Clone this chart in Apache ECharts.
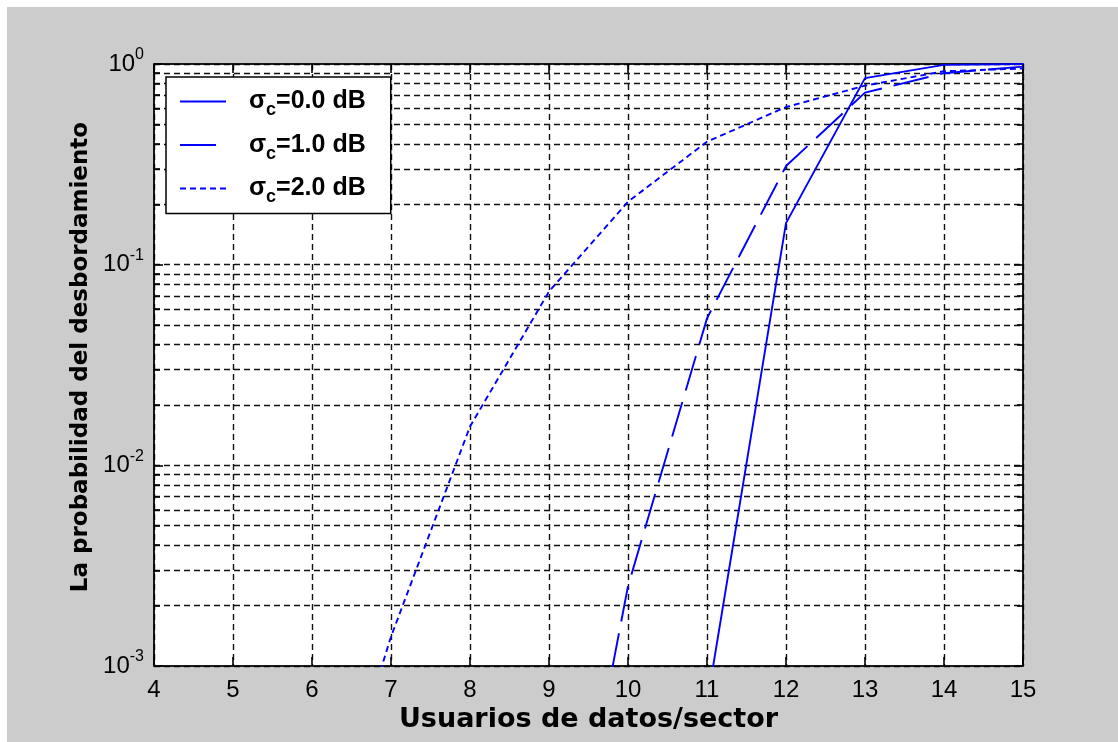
<!DOCTYPE html>
<html>
<head>
<meta charset="utf-8">
<script src="https://cdn.jsdelivr.net/npm/echarts@6/dist/echarts.min.js"></script>
<style>
  html, body { margin: 0; padding: 0; background: #ffffff; }
  #chart { position: absolute; left: 7px; top: 7px; width: 1111px; height: 735px; background: #cccccc; }
</style>
</head>
<body>
<div id="chart"></div>
<script>
// Users per sector (x) and overflow probability (y, log scale)
const xTicks = [4, 5, 6, 7, 8, 9, 10, 11, 12, 13, 14, 15];
const decadeTicks = [0.001, 0.01, 0.1, 1];
const minorTicks = [
  0.002, 0.003, 0.004, 0.005, 0.006, 0.007, 0.008, 0.009,
  0.02, 0.03, 0.04, 0.05, 0.06, 0.07, 0.08, 0.09,
  0.2, 0.3, 0.4, 0.5, 0.6, 0.7, 0.8, 0.9
];

const seriesNames = ['σc=0.0 dB', 'σc=1.0 dB', 'σc=2.0 dB'];

// sigma_c = 0.0 dB
const users0 = [11, 12, 13, 14, 15];
const prob0 = [0.00065, 0.161, 0.85, 0.99, 1.0];
// sigma_c = 1.0 dB
const users1 = [9, 10, 11, 12, 13, 14, 15];
const prob1 = [0.000022, 0.0025, 0.054, 0.31, 0.72, 0.90, 0.97];
// sigma_c = 2.0 dB
const users2 = [6, 7, 8, 9, 10, 11, 12, 13, 14, 15];
const prob2 = [0.000076, 0.0014, 0.0156, 0.0735, 0.206, 0.41, 0.61, 0.78, 0.92, 0.95];

const pairs = (xs, ys) => xs.map((x, i) => [x, ys[i]]);

const LABEL_FONT = "'Liberation Sans', Arial, sans-serif";
const TITLE_FONT = "'DejaVu Sans', 'Liberation Sans', Arial, sans-serif";
const LEGEND_FONT = "'Liberation Sans', Arial, sans-serif";
const GRID_DASH = [6, 4];
const GRID_LINE = { color: '#111111', width: 1.4, type: GRID_DASH };

const chart = echarts.init(document.getElementById('chart'), null, { renderer: 'canvas' });

const logAxisBase = {
  type: 'log',
  logBase: 10,
  min: 0.001,
  max: 1,
  gridIndex: 0
};

const option = {
  animation: false,
  backgroundColor: '#cccccc',
  grid: {
    left: 147, top: 57, width: 869, height: 602,
    show: true, backgroundColor: '#ffffff', borderColor: '#000000', borderWidth: 1,
    containLabel: false
  },
  legend: {
    left: 159, top: 70,
    orient: 'vertical',
    backgroundColor: '#ffffff',
    borderColor: '#000000', borderWidth: 1.5,
    padding: [12, 25, 7, 13],
    itemGap: 13,
    itemWidth: 46, itemHeight: 14,
    itemStyle: { opacity: 0 },
    data: seriesNames,
    formatter: name => '{s|σ}{c|c}{t|' + name.slice(2) + '}',
    textStyle: {
      padding: [0, 0, 0, 18],
      rich: {
        s: { fontFamily: LEGEND_FONT, fontWeight: 'bold', fontSize: 25, color: '#000' },
        c: { fontFamily: LEGEND_FONT, fontWeight: 'bold', fontSize: 18, color: '#000', padding: [18, 0, 0, 0] },
        t: { fontFamily: LEGEND_FONT, fontWeight: 'bold', fontSize: 25, color: '#000' }
      }
    }
  },
  xAxis: [
    {
      type: 'value', min: 4, max: 15, interval: 1, position: 'bottom',
      name: 'Usuarios de datos/sector', nameLocation: 'middle', nameGap: 37,
      nameTextStyle: { fontFamily: TITLE_FONT, fontWeight: 'bold', fontSize: 27, color: '#000' },
      axisLine: { show: true, onZero: false, lineStyle: { color: '#000', width: 1.6 } },
      axisTick: { show: true, inside: true, length: 9, lineStyle: { color: '#000', width: 1.6 } },
      axisLabel: { show: true, margin: 12, fontFamily: LABEL_FONT, fontSize: 24, color: '#000' },
      splitLine: { show: true, lineStyle: GRID_LINE }
    },
    {
      type: 'value', min: 4, max: 15, interval: 1, position: 'top',
      axisLine: { show: true, onZero: false, lineStyle: { color: '#000', width: 1.6 } },
      axisTick: { show: true, inside: true, length: 9, lineStyle: { color: '#000', width: 1.6 } },
      axisLabel: { show: false },
      splitLine: { show: false }
    }
  ],
  yAxis: [
    Object.assign({}, logAxisBase, {
      position: 'left',
      name: 'La probabilidad del desbordamiento', nameLocation: 'middle', nameGap: 61,
      nameTextStyle: { fontFamily: TITLE_FONT, fontWeight: 'bold', fontSize: 23, color: '#000', padding: [0, 0, 0, 16] },
      axisLine: { show: true, onZero: false, lineStyle: { color: '#000', width: 1.6 } },
      axisTick: { show: true, inside: true, length: 9, lineStyle: { color: '#000', width: 1.6 }, customValues: decadeTicks },
      axisLabel: {
        show: true, margin: 10, customValues: decadeTicks,
        formatter: v => '{b|10}{e|' + Math.round(Math.log10(v)) + '}',
        rich: {
          b: { fontFamily: LABEL_FONT, fontSize: 24, color: '#000' },
          e: { fontFamily: LABEL_FONT, fontSize: 16, color: '#000', padding: [0, 0, 18, 0] }
        }
      },
      splitLine: { show: true, lineStyle: GRID_LINE }
    }),
    Object.assign({}, logAxisBase, {
      position: 'left',
      axisLine: { show: false },
      axisTick: { show: true, inside: true, length: 6, lineStyle: { color: '#000', width: 1.6 }, customValues: minorTicks },
      axisLabel: { show: false },
      splitLine: { show: true, lineStyle: GRID_LINE }
    }),
    Object.assign({}, logAxisBase, {
      position: 'right',
      axisLine: { show: true, onZero: false, lineStyle: { color: '#000', width: 1.6 } },
      axisTick: { show: true, inside: true, length: 9, lineStyle: { color: '#000', width: 1.6 }, customValues: decadeTicks },
      axisLabel: { show: false },
      splitLine: { show: false }
    }),
    Object.assign({}, logAxisBase, {
      position: 'right',
      axisLine: { show: false },
      axisTick: { show: true, inside: true, length: 6, lineStyle: { color: '#000', width: 1.6 }, customValues: minorTicks },
      axisLabel: { show: false },
      splitLine: { show: false }
    })
  ],
  series: [
    {
      name: seriesNames[0], type: 'line', xAxisIndex: 0, yAxisIndex: 0,
      data: pairs(users0, prob0), showSymbol: false, symbol: 'none', clip: true,
      lineStyle: { color: '#0000ff', width: 1.9, type: 'solid' },
      itemStyle: { color: '#0000ff' }
    },
    {
      name: seriesNames[1], type: 'line', xAxisIndex: 0, yAxisIndex: 0,
      data: pairs(users1, prob1), showSymbol: false, symbol: 'none', clip: true,
      lineStyle: { color: '#0000ff', width: 1.9, type: [36, 12] },
      itemStyle: { color: '#0000ff' }
    },
    {
      name: seriesNames[2], type: 'line', xAxisIndex: 0, yAxisIndex: 0,
      data: pairs(users2, prob2), showSymbol: false, symbol: 'none', clip: true,
      lineStyle: { color: '#0000ff', width: 1.9, type: [6, 4] },
      itemStyle: { color: '#0000ff' }
    }
  ]
};

chart.setOption(option);
</script>
</body>
</html>
